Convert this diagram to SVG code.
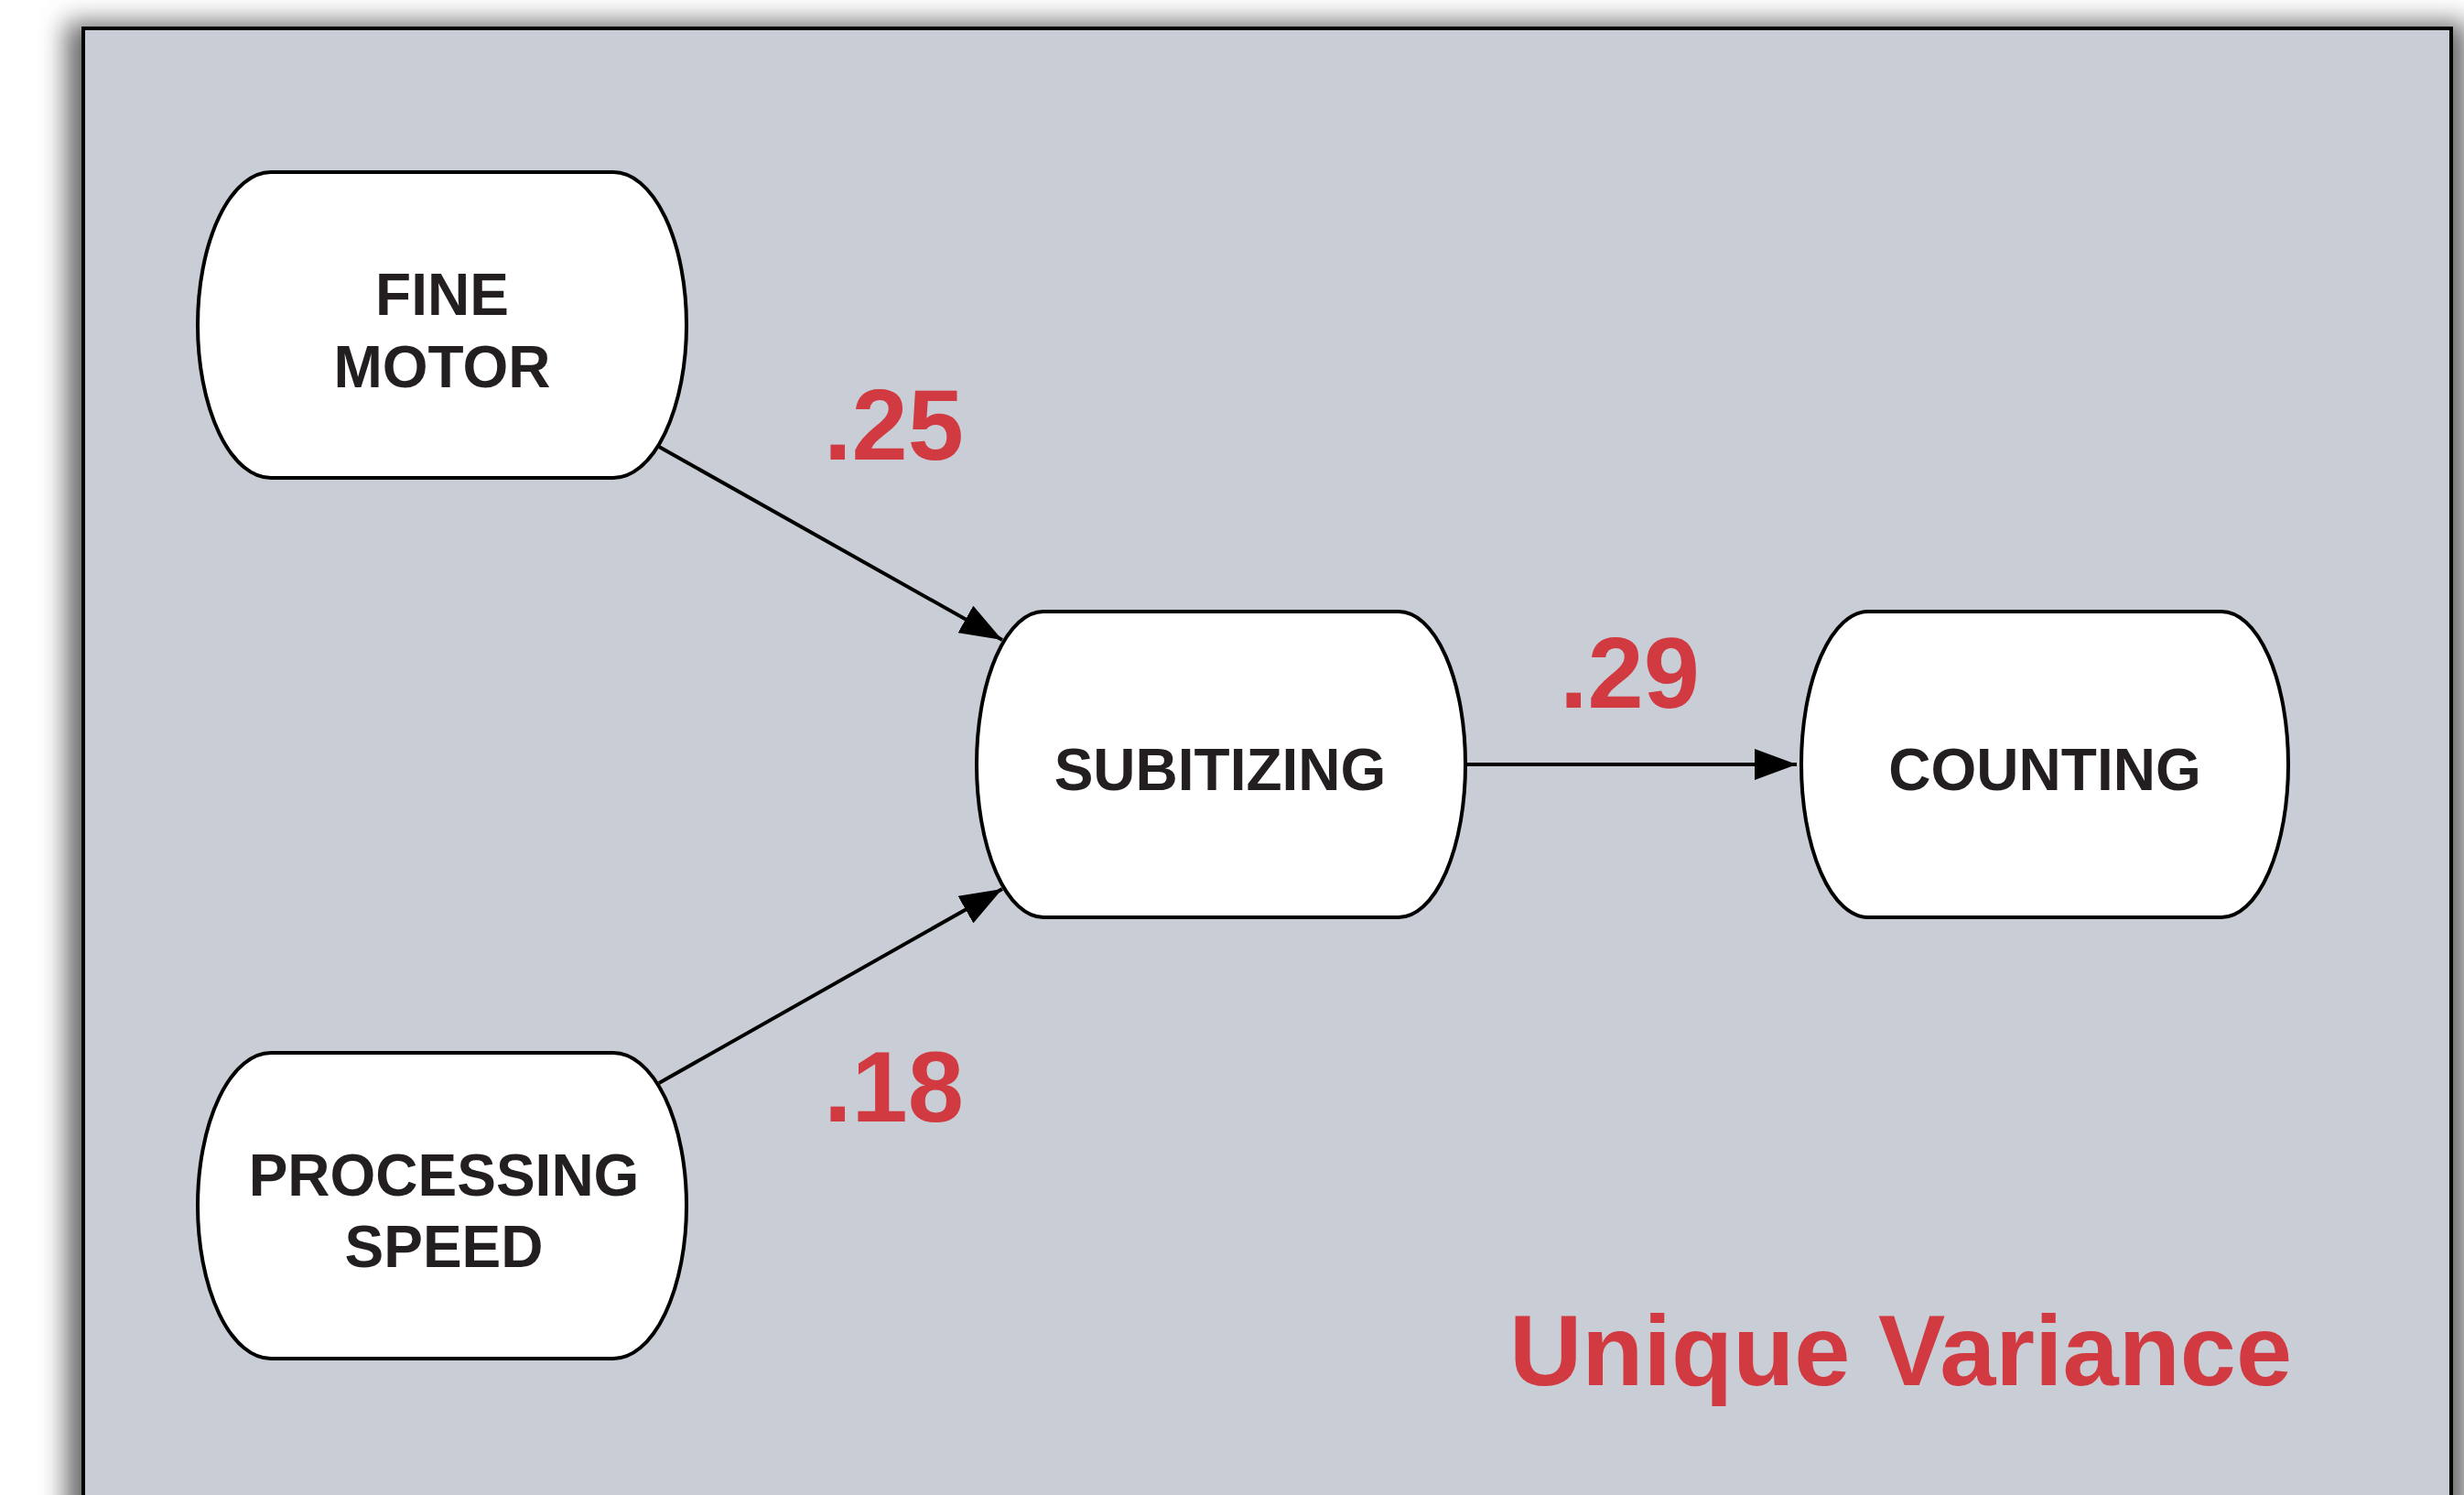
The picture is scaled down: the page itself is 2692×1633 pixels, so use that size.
<svg xmlns="http://www.w3.org/2000/svg" width="2692" height="1633" viewBox="0 0 2692 1633">
  <defs>
    <filter id="shadow" x="-5%" y="-5%" width="110%" height="110%">
      <feGaussianBlur stdDeviation="14"/>
    </filter>
    <marker id="arrow" markerUnits="userSpaceOnUse" markerWidth="46" markerHeight="34" refX="46" refY="17" orient="auto">
      <path d="M0,0 L46,17 L0,34 Z" fill="#000"/>
    </marker>
    <style>
      .node { fill: #ffffff; stroke: #000000; stroke-width: 4; }
      .label { font-family: "Liberation Sans", Arial, sans-serif; font-weight: bold; font-size: 64px; fill: #231f20; text-anchor: middle; }
      .num { font-family: "Liberation Sans", Arial, sans-serif; font-weight: bold; font-size: 110px; fill: #d13a40; }
      .edge { stroke: #000000; stroke-width: 4; fill: none; marker-end: url(#arrow); }
    </style>
  </defs>

  <rect width="2692" height="1633" fill="#ffffff"/>
  <rect x="72" y="24" width="2624" height="1640" fill="#6a6a6a" filter="url(#shadow)"/>
  <rect id="frame" x="91" y="31" width="2587" height="1640" fill="#c9cdd5" stroke="#000000" stroke-width="4"/>

  <g id="connectors">
    <line class="edge" x1="720" y1="488" x2="1095" y2="699"/>
    <line class="edge" x1="720" y1="1183" x2="1095" y2="971"/>
    <line class="edge" x1="1601" y1="835" x2="1963" y2="835"/>
  </g>

  <g id="node-fine-motor">
    <path class="node" d="M296,188 H670 A80,167 0 0 1 670,522 H296 A80,167 0 0 1 296,188 Z"/>
    <text class="label" x="483" y="344">FINE</text>
    <text class="label" x="483" y="423">MOTOR</text>
  </g>

  <g id="node-subitizing">
    <path class="node" d="M1140,668 H1528 A73,167 0 0 1 1528,1002 H1140 A73,167 0 0 1 1140,668 Z"/>
    <text class="label" x="1333" y="863">SUBITIZING</text>
  </g>

  <g id="node-counting">
    <path class="node" d="M2041,668 H2427 A73,167 0 0 1 2427,1002 H2041 A73,167 0 0 1 2041,668 Z"/>
    <text class="label" x="2234" y="863">COUNTING</text>
  </g>

  <g id="node-processing-speed">
    <path class="node" d="M296,1150 H670 A80,167 0 0 1 670,1484 H296 A80,167 0 0 1 296,1150 Z"/>
    <text class="label" x="485" y="1306">PROCESSING</text>
    <text class="label" x="485" y="1384">SPEED</text>
  </g>

  <g id="labels">
    <text class="num" x="900" y="502">.25</text>
    <text class="num" x="1704" y="773">.29</text>
    <text class="num" x="900" y="1225">.18</text>
    <text class="num" x="1649" y="1513" font-size="112" textLength="855" lengthAdjust="spacingAndGlyphs">Unique Variance</text>
  </g>
</svg>
